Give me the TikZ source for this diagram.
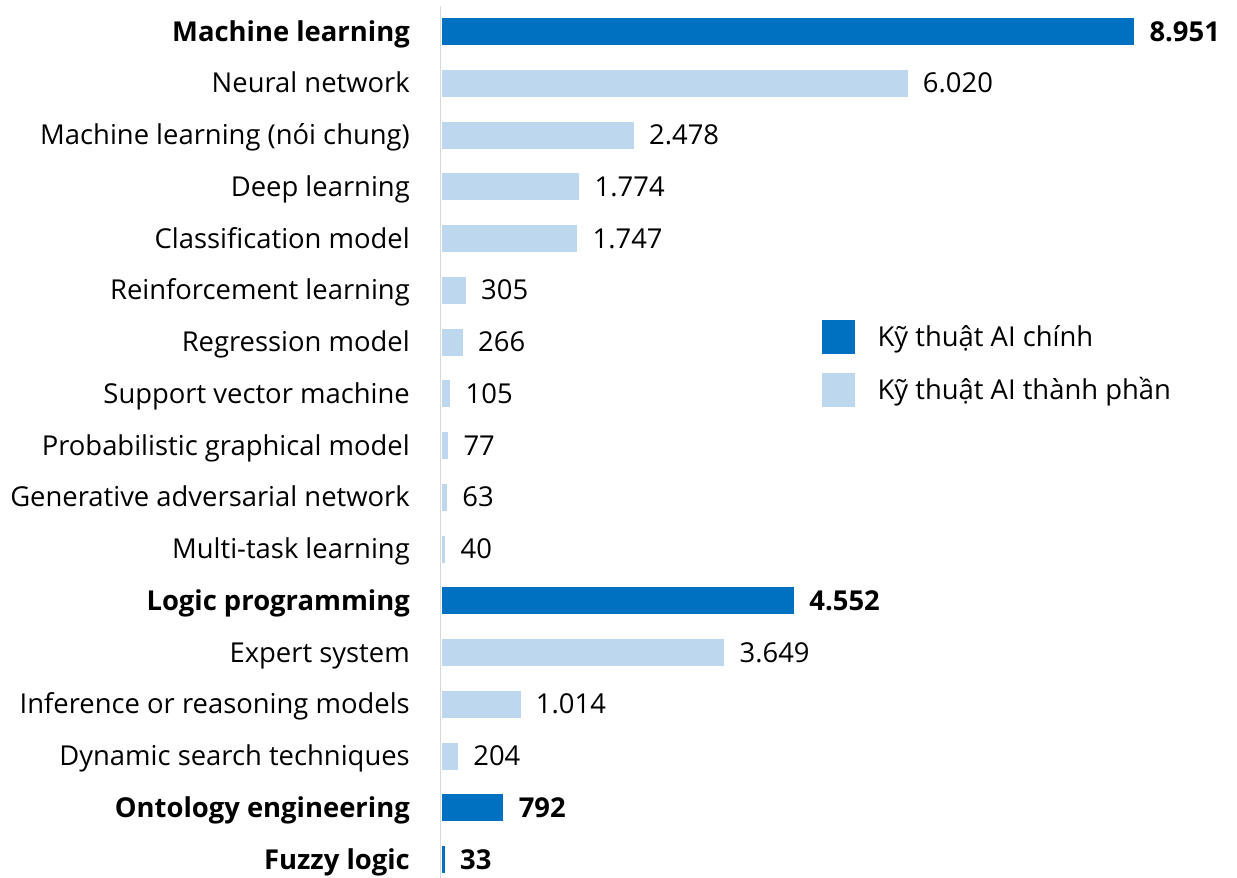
\documentclass[tikz,border=0pt]{standalone}
\usepackage{fontspec}
\setmainfont{Open Sans}
\usepackage{tikz}
\usetikzlibrary{positioning,calc}

\definecolor{mainblue}{HTML}{0070C0}
\definecolor{subblue}{HTML}{BDD7EE}
\definecolor{axisgray}{HTML}{D9D9D9}

\tikzset{
  txt/.style={inner sep=0pt, text height=19pt, text depth=0pt,
    font=\fontsize{27.4}{32}\selectfont},
  labmain/.style={txt, anchor=east, font=\fontsize{27.4}{32}\selectfont\bfseries},
  labsub/.style={txt, anchor=east},
  valmain/.style={txt, anchor=west, font=\fontsize{27.4}{32}\selectfont\bfseries},
  valsub/.style={txt, anchor=west},
  barmain/.style={fill=mainblue, inner sep=0pt, minimum height=27pt, anchor=west},
  barsub/.style={fill=subblue, inner sep=0pt, minimum height=27pt, anchor=west},
}

\begin{document}
\begin{tikzpicture}[x=1pt, y=-1pt, line cap=butt]

% --- chart parameters (pixel units, y downwards) ---
\def\xZero{442}    % left end of the bars
\def\xLab{410}     % right edge of the category labels
\def\yTop{31.5}    % centre of the first row
\def\dy{51.75}     % row spacing
\def\sc{0.0773}    % pixels per unit

\useasboundingbox (0,0) rectangle (1237,878);

% axis line
\coordinate (axtop) at (440.5,6);
\coordinate (axbot) at (440.5,878);
\draw[axisgray, line width=1.5pt] (axtop) -- (axbot);

% ------------------ bars, labels, values ------------------
\foreach \i/\lab/\val/\disp/\kind in {
  0/Machine learning/8951/8.951/main,
  1/Neural network/6020/6.020/sub,
  2/Machine learning (nói chung)/2478/2.478/sub,
  3/Deep learning/1774/1.774/sub,
  4/Classification model/1747/1.747/sub,
  5/Reinforcement learning/305/305/sub,
  6/Regression model/266/266/sub,
  7/Support vector machine/105/105/sub,
  8/Probabilistic graphical model/77/77/sub,
  9/Generative adversarial network/63/63/sub,
  10/Multi-task learning/40/40/sub,
  11/Logic programming/4552/4.552/main,
  12/Expert system/3649/3.649/sub,
  13/Inference or reasoning models/1014/1.014/sub,
  14/Dynamic search techniques/204/204/sub,
  15/Ontology engineering/792/792/main,
  16/Fuzzy logic/33/33/main}
{
  \pgfmathsetmacro{\y}{\yTop+\i*\dy}
  \pgfmathsetmacro{\len}{\val*\sc}
  \node[lab\kind] (lab\i) at (\xLab,\y) {\lab};
  \node[bar\kind, minimum width=\len pt] (bar\i) at (\xZero,\y) {};
  \node[val\kind, right=15pt of bar\i.east] (val\i) {\disp};
}

% ------------------ legend ------------------
\node[barmain, minimum width=33pt, minimum height=34pt] (keymain) at (822,336.5) {};
\node[barsub, minimum width=33pt, minimum height=34pt] (keysub) at (822,389.5) {};
\node[valsub, right=22pt of keymain.east] (keymaintxt) {Kỹ thuật AI chính};
\node[valsub, right=22pt of keysub.east] (keysubtxt) {Kỹ thuật AI thành phần};

\end{tikzpicture}
\end{document}
